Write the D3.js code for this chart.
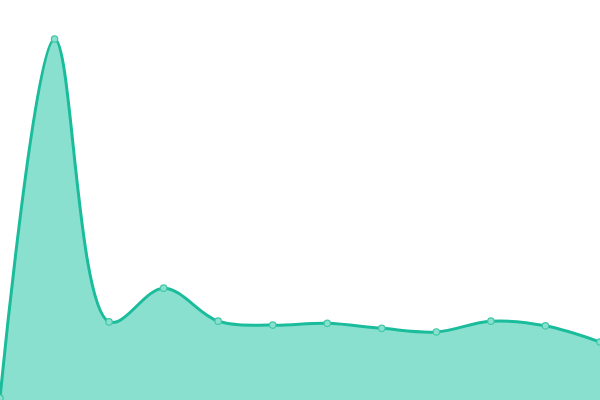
<!DOCTYPE html>
<html>
<head>
<meta charset="utf-8">
<script src="https://cdn.jsdelivr.net/npm/d3@7"></script>
<style>
  html, body { margin: 0; padding: 0; background: #fff; }
  svg { display: block; }
</style>
</head>
<body>
<div id="chart"></div>
<script>
// values (0 = bottom edge, 100 = the peak)
const categories = ["1", "2", "3", "4", "5", "6", "7", "8", "9", "10", "11", "12"];
const values = [0, 100, 21.2, 30.6, 21.4, 20.3, 20.8, 19.4, 18.4, 21.4, 20.1, 15.6];

const width = 600, height = 400;

const svg = d3.select("#chart")
    .append("svg")
    .attr("width", width)
    .attr("height", height);

const x = d3.scalePoint()
    .domain(categories)
    .range([0, width]);

const y = d3.scaleLinear()
    .domain([0, 100])
    .range([398, 39]);

const curve = d3.curveCatmullRom;

// filled area
svg.append("path")
    .datum(values)
    .attr("fill", "#8ae0cf")
    .attr("d", d3.area()
        .x((d, i) => x(categories[i]))
        .y0(height)
        .y1(d => y(d))
        .curve(curve));

// outline
svg.append("path")
    .datum(values)
    .attr("fill", "none")
    .attr("stroke", "#1abc9c")
    .attr("stroke-width", 3)
    .attr("d", d3.line()
        .x((d, i) => x(categories[i]))
        .y(d => y(d))
        .curve(curve));

// points
svg.selectAll("circle")
    .data(values)
    .join("circle")
    .attr("cx", (d, i) => x(categories[i]))
    .attr("cy", d => y(d))
    .attr("r", 3.2)
    .attr("fill", "#8ae0cf")
    .attr("stroke", "#3fc8a8")
    .attr("stroke-width", 1.2);
</script>
</body>
</html>
